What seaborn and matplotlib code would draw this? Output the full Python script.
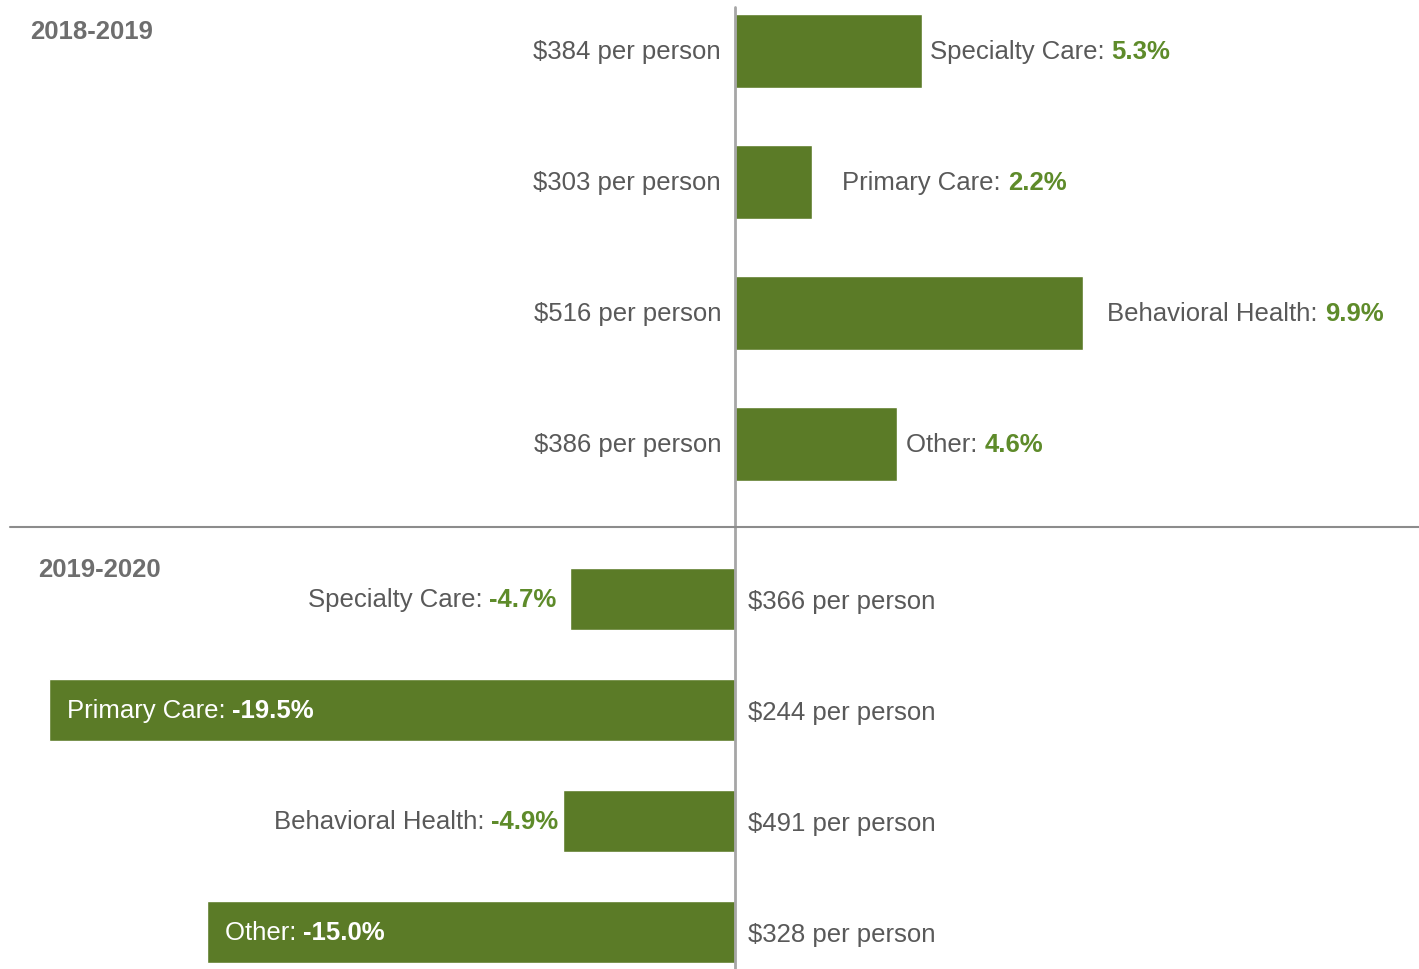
import matplotlib
matplotlib.use("Agg")
import matplotlib.pyplot as plt
import matplotlib.transforms as mtransforms
from matplotlib.lines import Line2D
import pandas as pd
import seaborn as sns

# Spending change by service category, two periods
categories = ["Specialty Care", "Primary Care", "Behavioral Health", "Other"]
change_2019 = [5.3, 2.2, 9.9, 4.6]
per_person_2019 = [384, 303, 516, 386]
change_2020 = [-4.7, -19.5, -4.9, -15.0]
per_person_2020 = [366, 244, 491, 328]
period_labels = ["2018-2019", "2019-2020"]

BAR = "#5b7b27"
GRAY = "#595959"
GREEN = "#5e8b2a"
AXIS = "#a6a6a6"

sns.set_theme(style="white")
plt.rcParams["font.family"] = ["Liberation Sans Narrow", "Liberation Sans", "DejaVu Sans"]
FS = 18.5

W, H = 1419, 970
fig = plt.figure(figsize=(W / 100, H / 100), dpi=100)
renderer = fig.canvas.get_renderer()

px_per_pct = 35.2
zero_px = 735
xlim = (-zero_px / px_per_pct, (W - zero_px) / px_per_pct)


def add_axes_px(top, bottom):
    return fig.add_axes([0, 1 - bottom / H, 1, (bottom - top) / H])


ax_top = add_axes_px(0, 528)
ax_bot = add_axes_px(528, 970)

df_top = pd.DataFrame({"category": categories, "change": change_2019})
df_bot = pd.DataFrame({"category": categories, "change": change_2020})

sns.barplot(data=df_top, x="change", y="category", orient="h", color=BAR,
            width=0.565, saturation=1, ax=ax_top)
sns.barplot(data=df_bot, x="change", y="category", orient="h", color=BAR,
            width=0.565, saturation=1, ax=ax_bot)

ax_top.set_ylim(3.634, -0.397)
ax_bot.set_ylim(3.333, -0.649)

for ax in (ax_top, ax_bot):
    ax.set_xlim(*xlim)
    ax.axis("off")

ax_top.axvline(0, ymin=0, ymax=(528 - 8) / 528, color=AXIS, lw=2, zorder=3)
ax_bot.axvline(0, ymin=0, ymax=1, color=AXIS, lw=2, zorder=3)

# separator between the two periods
fig.add_artist(Line2D([10 / W, 1], [1 - 528 / H, 1 - 528 / H],
                      transform=fig.transFigure, color="#8c8c8c", lw=1.5))


def run_text(ax, x, y, parts, ha, dx, dy=0):
    """Draw consecutive text pieces starting (ha='left') or ending
    (ha='right') at data point (x, y) shifted by dx pixels."""
    seq = parts if ha == "left" else list(reversed(parts))
    off = dx
    for txt, color, weight in seq:
        tr = mtransforms.offset_copy(ax.transData, fig=fig, x=off, y=dy, units="dots")
        t = ax.text(x, y, txt, transform=tr, ha=ha, va="center", color=color,
                    fontsize=FS, fontweight=weight, zorder=5)
        w = t.get_window_extent(renderer=renderer).width
        off = off + w if ha == "left" else off - w


# 2018-2019 panel
top_pads = [8, 30, 24, 9]
for i, (cat, val, pp) in enumerate(zip(categories, change_2019, per_person_2019)):
    run_text(ax_top, val, i, [(f"{cat}: ", GRAY, "normal"), (f"{val:.1f}%", GREEN, "bold")],
             "left", top_pads[i])
    run_text(ax_top, 0, i, [(f"${pp} per person", GRAY, "normal")], "right", -14)

# 2019-2020 panel
for i, (cat, val, pp) in enumerate(zip(categories, change_2020, per_person_2020)):
    if val < -10:
        run_text(ax_bot, val, i, [(f"{cat}: ", "white", "normal"), (f"{val:.1f}%", "white", "bold")],
                 "left", 18)
    else:
        pad = -13 if i == 0 else -4
        run_text(ax_bot, val, i, [(f"{cat}: ", GRAY, "normal"), (f"{val:.1f}%", GREEN, "bold")],
                 "right", pad)
    run_text(ax_bot, 0, i, [(f"${pp} per person", GRAY, "normal")], "left", 13, dy=-2)

fig.text(30 / W, 1 - 32 / H, period_labels[0], ha="left", va="center",
         fontsize=FS, fontweight="bold", color="#6e6e6e")
fig.text(38 / W, 1 - 570 / H, period_labels[1], ha="left", va="center",
         fontsize=FS, fontweight="bold", color="#6e6e6e")

fig.savefig("out.png", dpi=100, facecolor="white")
